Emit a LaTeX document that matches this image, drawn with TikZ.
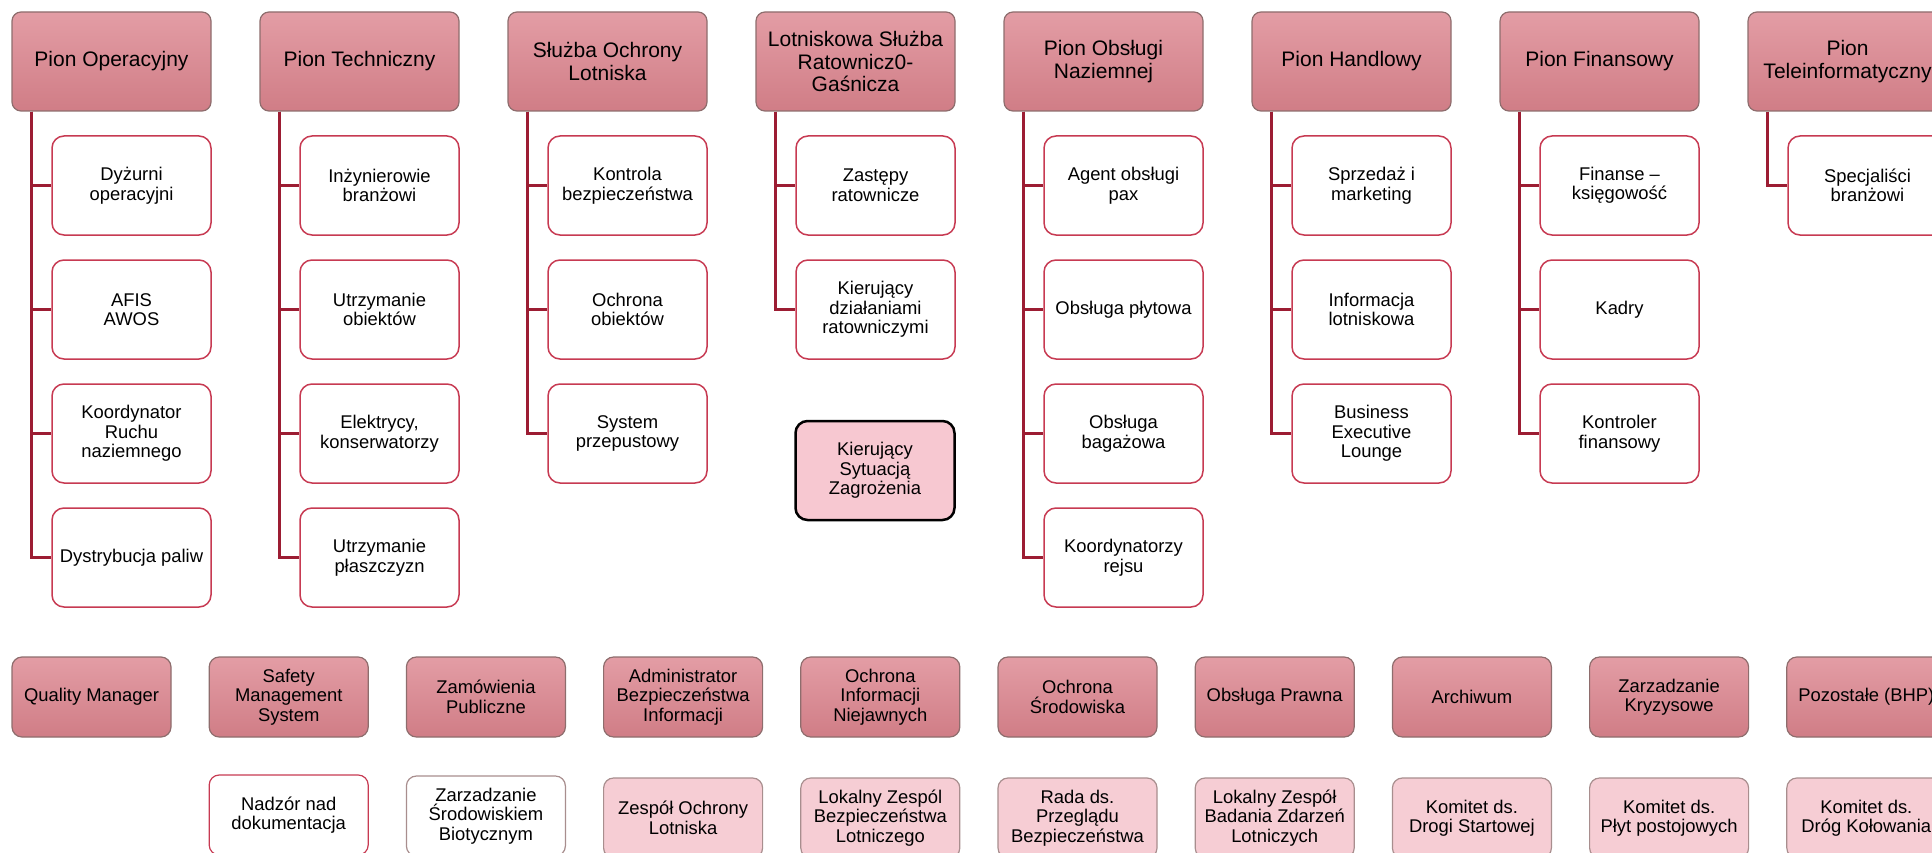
\documentclass[tikz,border=0pt]{standalone}
\usepackage{fontspec}
\setmainfont{Liberation Sans}
\usepackage{xcolor}
\usepackage{tikz}
\usetikzlibrary{positioning,calc}

\definecolor{piontop}{HTML}{E39DA5}
\definecolor{pionbot}{HTML}{D07D86}
\definecolor{pionedge}{HTML}{8E6D6D}
\definecolor{dzialedge}{HTML}{C73A52}
\definecolor{linia}{HTML}{9C1D33}
\definecolor{komfill}{HTML}{F6CDD4}
\definecolor{komedge}{HTML}{A88E8E}
\definecolor{kszfill}{HTML}{F7C8D1}

\tikzset{
  pion/.style={rectangle, rounded corners=9, draw=pionedge, line width=1.2, top color=piontop, bottom color=pionbot, minimum width=199, minimum height=99, align=center, inner sep=2, font=\fontsize{21}{22.3}\selectfont},
  dzial/.style={rectangle, rounded corners=12, draw=dzialedge, line width=1.5, fill=white, minimum width=159, minimum height=99, align=center, inner sep=2, font=\fontsize{18.4}{19.5}\selectfont},
  sluzba/.style={pion, rounded corners=10, minimum width=159, minimum height=80, font=\fontsize{18.4}{19.5}\selectfont},
  komitet/.style={rectangle, rounded corners=10, draw=komedge, line width=1.2, fill=komfill, minimum width=159, minimum height=80, align=center, inner sep=2, font=\fontsize{18.4}{19.5}\selectfont},
  polaczenie/.style={draw=linia, line width=3}
}

\begin{document}
\begin{tikzpicture}[x=1pt, y=-1pt]
  \clip (0,0) rectangle (1932,853);

  % piony
  \node[pion] (h0) at (111.5,61.5) {Pion Operacyjny};
  \node[pion] (h1) at (359.5,61.5) {Pion Techniczny};
  \node[pion] (h2) at (607.5,61.5) {Służba Ochrony\\Lotniska};
  \node[pion] (h3) at (855.5,61.5) {Lotniskowa Służba\\Ratownicz0-\\Gaśnicza};
  \node[pion] (h4) at (1103.5,61.5) {Pion Obsługi\\Naziemnej};
  \node[pion] (h5) at (1351.5,61.5) {Pion Handlowy};
  \node[pion] (h6) at (1599.5,61.5) {Pion Finansowy};
  \node[pion] (h7) at (1847.5,61.5) {Pion\\Teleinformatyczny};

  % Pion Operacyjny
  \node[dzial] (c00) at (131.5,185.5) {Dyżurni\\operacyjni};
  \node[dzial] (c01) at (131.5,309.5) {AFIS\\AWOS};
  \node[dzial] (c02) at (131.5,433.5) {Koordynator\\Ruchu\\naziemnego};
  \node[dzial] (c03) at (131.5,557.5) {Dystrybucja paliw};
  % Pion Techniczny
  \node[dzial] (c10) at (379.5,185.5) {Inżynierowie\\branżowi};
  \node[dzial] (c11) at (379.5,309.5) {Utrzymanie\\obiektów};
  \node[dzial] (c12) at (379.5,433.5) {Elektrycy,\\konserwatorzy};
  \node[dzial] (c13) at (379.5,557.5) {Utrzymanie\\płaszczyzn};
  % Sluzba Ochrony Lotniska
  \node[dzial] (c20) at (627.5,185.5) {Kontrola\\bezpieczeństwa};
  \node[dzial] (c21) at (627.5,309.5) {Ochrona\\obiektów};
  \node[dzial] (c22) at (627.5,433.5) {System\\przepustowy};
  % LSRG
  \node[dzial] (c30) at (875.5,185.5) {Zastępy\\ratownicze};
  \node[dzial] (c31) at (875.5,309.5) {Kierujący\\działaniami\\ratowniczymi};
  \node[dzial, draw=black, line width=2.5, fill=kszfill] (ksz) at (875,470.5) {Kierujący\\Sytuacją\\Zagrożenia};
  % Pion Obslugi Naziemnej
  \node[dzial] (c40) at (1123.5,185.5) {Agent obsługi\\pax};
  \node[dzial] (c41) at (1123.5,309.5) {Obsługa płytowa};
  \node[dzial] (c42) at (1123.5,433.5) {Obsługa\\bagażowa};
  \node[dzial] (c43) at (1123.5,557.5) {Koordynatorzy\\rejsu};
  % Pion Handlowy
  \node[dzial] (c50) at (1371.5,185.5) {Sprzedaż i\\marketing};
  \node[dzial] (c51) at (1371.5,309.5) {Informacja\\lotniskowa};
  \node[dzial] (c52) at (1371.5,433.5) {Business\\Executive\\Lounge};
  % Pion Finansowy
  \node[dzial] (c60) at (1619.5,185.5) {Finanse --\\księgowość};
  \node[dzial] (c61) at (1619.5,309.5) {Kadry};
  \node[dzial] (c62) at (1619.5,433.5) {Kontroler\\finansowy};
  % Pion Teleinformatyczny
  \node[dzial] (c70) at (1867.5,185.5) {Specjaliści\\branżowi};

  % polaczenia
  \foreach \h/\c in {h0/c00,h0/c01,h0/c02,h0/c03,h1/c10,h1/c11,h1/c12,h1/c13,
                     h2/c20,h2/c21,h2/c22,h3/c30,h3/c31,
                     h4/c40,h4/c41,h4/c42,h4/c43,h5/c50,h5/c51,h5/c52,
                     h6/c60,h6/c61,h6/c62,h7/c70}
    \draw[polaczenie] ($(\h.south west)+(20,0)$) |- (\c.west);

  % sluzby
  \node[sluzba] (s0) at (91.5,697) {Quality Manager};
  \node[sluzba] (s1) at (288.7,697) {Safety\\Management\\System};
  \node[sluzba] (s2) at (485.9,697) {Zamówienia\\Publiczne};
  \node[sluzba] (s3) at (683.1,697) {Administrator\\Bezpieczeństwa\\Informacji};
  \node[sluzba] (s4) at (880.3,697) {Ochrona\\Informacji\\Niejawnych};
  \node[sluzba] (s5) at (1077.5,697) {Ochrona\\Środowiska};
  \node[sluzba] (s6) at (1274.7,697) {Obsługa Prawna};
  \node[sluzba] (s7) at (1471.9,697) {Archiwum};
  \node[sluzba] (s8) at (1669.1,697) {Zarzadzanie\\Kryzysowe};
  \node[sluzba] (s9) at (1866.3,697) {Pozostałe (BHP)};

  % zespoly i komitety
  \node[komitet, fill=white, draw=dzialedge] (k1) at (288.7,815) {Nadzór nad\\dokumentacja};
  \node[komitet, fill=white] (k2) at (485.9,816) {Zarzadzanie\\Środowiskiem\\Biotycznym};
  \node[komitet] (k3) at (683.1,818) {Zespół Ochrony\\Lotniska};
  \node[komitet] (k4) at (880.3,818) {Lokalny Zespól\\Bezpieczeństwa\\Lotniczego};
  \node[komitet] (k5) at (1077.5,818) {Rada ds.\\Przeglądu\\Bezpieczeństwa};
  \node[komitet] (k6) at (1274.7,818) {Lokalny Zespół\\Badania Zdarzeń\\Lotniczych};
  \node[komitet] (k7) at (1471.9,818) {Komitet ds.\\Drogi Startowej};
  \node[komitet] (k8) at (1669.1,818) {Komitet ds.\\Płyt postojowych};
  \node[komitet] (k9) at (1866.3,818) {Komitet ds.\\Dróg Kołowania};
\end{tikzpicture}
\end{document}
